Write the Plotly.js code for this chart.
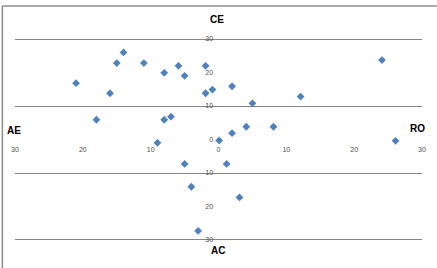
<!DOCTYPE html>
<html>
<head>
<meta charset="utf-8">
<script src="https://cdn.plot.ly/plotly-3.0.1.min.js"></script>
<style>html,body{margin:0;padding:0;background:#fff;}#chart{width:437px;height:268px;}</style>
</head>
<body>
<div id="chart"></div>
<script>
// Point values
const xVals = [-21, -14, -15, -11, -8, -5.9, -5, -1.9, -16, -1.9, -0.9, -18, -8, -7, 24.1, 2, 5, 12.1, 4.1, 8.1, 2, -9, -5, -4, -3, 0.1, 26.1, 1.2, 3.1];
const yVals = [16.8, 26, 22.8, 22.8, 19.9, 22, 19, 22, 13.8, 13.8, 14.9, 5.9, 5.9, 6.8, 23.7, 15.9, 10.8, 12.8, 3.8, 3.8, 1.9, -1, -7.3, -14.1, -27.3, -0.3, -0.4, -7.3, -17.3];

// Axis ticks (labels shown as absolute values)
const xTickVals = [-30, -20, -10, 0, 10, 20, 30];
const xTickText = ["30", "20", "10", "0", "10", "20", "30"];
const yTickVals = [-30, -20, -10, 0, 10, 20, 30];
const yTickText = ["30", "20", "10", "0", "10", "20", "30"];
const yGridVals = [-30, -10, 10, 30];

// Quadrant labels
const quadLabels = ["CE", "AC", "AE", "RO"];

const xRange = [-30, 30];
const yRange = [-38.36, 39.85];
const xAxisPos = (0 - yRange[0]) / (yRange[1] - yRange[0]);
const yAxisPos = (0 - xRange[0]) / (xRange[1] - xRange[0]);

const tickFont = {family: "Liberation Sans, Arial, sans-serif", size: 7, color: "#4d4d4d"};
const labFont = {family: "Liberation Sans, Arial, sans-serif", size: 10, color: "#000"};

const data = [
  {
    type: "scatter", mode: "markers", x: xVals, y: yVals,
    marker: {symbol: "diamond", size: 6, color: "#4F81BD"},
    xaxis: "x", yaxis: "y", showlegend: false, hoverinfo: "x+y", cliponaxis: false
  },
  {
    type: "scatter", mode: "markers", x: [], y: [],
    xaxis: "x", yaxis: "y2", showlegend: false, hoverinfo: "skip"
  }
];

function lab(t, x, y) {
  return {text: "<b>" + t + "</b>", xref: "paper", yref: "paper", x: x, y: y,
          xanchor: "center", yanchor: "middle", showarrow: false, font: labFont};
}

const layout = {
  width: 437, height: 268,
  margin: {l: 15, r: 15, t: 6, b: 0, pad: 0},
  paper_bgcolor: "#fff", plot_bgcolor: "#fff",
  showlegend: false,
  xaxis: {
    range: xRange, domain: [0, 1], anchor: "free", position: xAxisPos,
    tickmode: "array", tickvals: xTickVals, ticktext: xTickText,
    showgrid: false, zeroline: false, showline: false,
    ticks: "outside", ticklen: 3, tickcolor: "rgba(0,0,0,0)",
    tickfont: tickFont, fixedrange: true
  },
  yaxis: {
    range: yRange, domain: [0, 1],
    tickmode: "array", tickvals: yGridVals,
    showticklabels: false, showgrid: true, gridcolor: "#868686", gridwidth: 1,
    zeroline: false, showline: false, ticks: "", fixedrange: true
  },
  yaxis2: {
    range: yRange, overlaying: "y", anchor: "free", position: yAxisPos, side: "left",
    tickmode: "array", tickvals: yTickVals, ticktext: yTickText,
    showgrid: false, zeroline: false, showline: false,
    ticks: "outside", ticklen: 4, tickcolor: "rgba(0,0,0,0)",
    tickfont: tickFont, fixedrange: true
  },
  shapes: [
    {type: "line", xref: "paper", yref: "paper", x0: -0.031, x1: 1.05, y0: 1, y1: 1, line: {color: "#8c8c8c", width: 1.5}},
    {type: "line", xref: "paper", yref: "paper", x0: -0.031, x1: -0.031, y0: 1, y1: -0.1, line: {color: "#8c8c8c", width: 1.5}}
  ],
  annotations: [
    lab(quadLabels[0], 0.496, 0.9466),
    lab(quadLabels[1], 0.499, 0.0649),
    lab(quadLabels[2], -0.002, 0.525),
    lab(quadLabels[3], 0.990, 0.534)
  ]
};

Plotly.newPlot("chart", data, layout, {displayModeBar: false, staticPlot: true});
</script>
</body>
</html>
